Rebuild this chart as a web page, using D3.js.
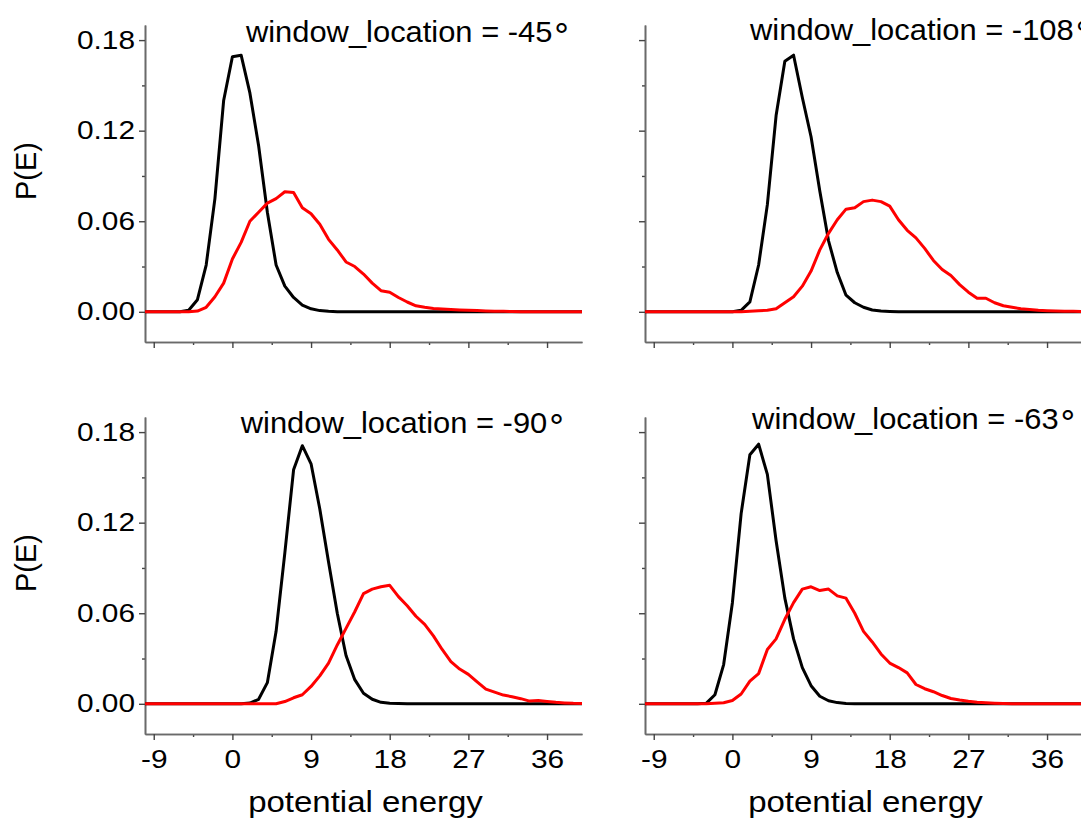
<!DOCTYPE html>
<html>
<head>
<meta charset="utf-8">
<script src="https://cdn.jsdelivr.net/npm/d3@7"></script>
<style>
  body { margin: 0; background: #fff; }
  text { font-family: "Liberation Sans", Arial, sans-serif; fill: #000; }
</style>
</head>
<body>
<div id="chart"></div>
<script>
// bin centres (potential energy)
var energy = [-10,-9,-8,-7,-6,-5,-4,-3,-2,-1,0,1,2,3,4,5,6,7,8,9,10,11,12,13,14,15,16,17,18,19,20,
  21,22,23,24,25,26,27,28,29,30,31,32,33,34,35,36,37,38,39,40]

var windows = ["-45", "-108", "-90", "-63"]

var black45 = [0,0,0,0,0,0.001,0.008,0.031,0.075,0.14,0.169,0.17,0.145,0.11,0.066,0.031,0.017,0.0095,0.0045,0.002,0.0008,0.0003,
  0,0,0,0,0,0,0,0,0,0,0,0,0,0,0,0,0,0,0,0,0,0,0,0,0,0,0,0,0]
var red45 = [0,0,0,0,0,0,0.0005,0.003,0.01,0.019,0.035,0.046,0.06,0.066,0.072,0.075,0.0795,0.079,0.069,0.065,0.058,0.048,0.041,
  0.033,0.03,0.025,0.019,0.014,0.013,0.0095,0.0065,0.004,0.003,0.0022,0.0018,0.0015,0.0012,0.001,0.0008,0.0006,0.0004,0.0003,0.0002,
  0,0,0,0,0,0,0,0]

var black108 = [0,0,0,0,0,0,0,0,0,0,0,0.001,0.0066,0.031,0.071,0.13,0.166,0.17,0.142,0.116,0.08,0.047,0.026,0.011,0.006,0.003,
  0.0012,0.0005,0.0002,0,0,0,0,0,0,0,0,0,0,0,0,0,0,0,0,0,0,0,0,0,0]
var red108 = [0,0,0,0,0,0,0,0,0,0,0,0,0.0003,0.0007,0.001,0.002,0.006,0.01,0.017,0.027,0.041,0.052,0.061,0.068,0.069,0.073,0.074,
  0.073,0.07,0.061,0.054,0.049,0.042,0.034,0.028,0.024,0.018,0.013,0.009,0.009,0.006,0.004,0.003,0.002,0.0015,0.001,0.0007,0.0005,
  0.0004,0.0003,0.0002]

var black90 = [0,0,0,0,0,0,0,0,0,0,0,0,0.0005,0.003,0.014,0.048,0.1,0.155,0.171,0.159,0.129,0.094,0.06,0.032,0.016,0.007,0.003,
  0.001,0.0004,0.0002,0,0,0,0,0,0,0,0,0,0,0,0,0,0,0,0,0,0,0,0,0]
var red90 = [0,0,0,0,0,0,0,0,0,0,0,0,0,0,0,0,0.0015,0.004,0.006,0.0115,0.0185,0.027,0.039,0.05,0.061,0.073,0.076,0.0775,0.0785,
  0.071,0.065,0.058,0.0526,0.045,0.036,0.028,0.023,0.0195,0.0145,0.0097,0.0077,0.0058,0.0047,0.0034,0.0018,0.0022,0.0016,0.001,
  0.0006,0.0003,0.0002]

var black63 = [0,0,0,0,0,0,0,0.0003,0.006,0.026,0.067,0.126,0.165,0.172,0.152,0.108,0.07,0.043,0.024,0.012,0.005,0.002,0.0008,
  0.0002,0,0,0,0,0,0,0,0,0,0,0,0,0,0,0,0,0,0,0,0,0,0,0,0,0,0,0]
var red63 = [0,0,0,0,0,0,0,0,0.0003,0.0007,0.0022,0.0065,0.015,0.02,0.036,0.043,0.056,0.067,0.076,0.0775,0.075,0.076,0.0715,0.07,
  0.06,0.048,0.041,0.033,0.027,0.024,0.0205,0.0128,0.01,0.008,0.0055,0.0035,0.0025,0.0017,0.0011,0.0007,0.0004,0.0002,
  0,0,0,0,0,0,0,0,0]

var blackSeries = [black45, black108, black90, black63]
var redSeries = [red45, red108, red90, red63]

var xMajor = [-9, 0, 9, 18, 27, 36]
var xMinor = [-4.5, 4.5, 13.5, 22.5, 31.5]
var yMajor = [0, 0.06, 0.12, 0.18]
var yMinor = [0.03, 0.09, 0.15]

// layout
var W = 1081, H = 825
var plotW = 437, plotH = 317
var panels = [
  {left: 145, top: 25, tx: 98, ty: 17, xlab: false, ylab: true},
  {left: 645, top: 25, tx: 102, ty: 15, xlab: false, ylab: false},
  {left: 145, top: 417, tx: 93, ty: 16, xlab: true, ylab: true},
  {left: 645, top: 417, tx: 104, ty: 12, xlab: true, ylab: false}
]
var tickStretch = 1.17

var svg = d3.select("#chart")
    .append("svg")
    .attr("width", W)
    .attr("height", H)

var x = d3.scaleLinear().domain([-10, 40]).range([0, plotW])
var y = d3.scaleLinear().domain([-0.02, 0.19]).range([plotH, 0])

var line = d3.line()
    .x(function(d, i){ return x(energy[i]) })
    .y(function(d){ return y(d) })

// plain hyphen for negatives, like the original
var fmtX = function(d){ return String(d) }
var fmtY = function(d){ return d.toFixed(2) }

panels.forEach(function(p, k){
    var g = svg.append("g")
        .attr("transform", "translate(" + p.left + "," + p.top + ")")

    // minor ticks
    g.append("g")
        .attr("class", "minor")
        .attr("transform", "translate(0," + plotH + ")")
        .call(d3.axisBottom(x).tickValues(xMinor).tickSize(3).tickSizeOuter(0).tickFormat(""))
    g.append("g")
        .attr("class", "minor")
        .call(d3.axisLeft(y).tickValues(yMinor).tickSize(3).tickSizeOuter(0).tickFormat(""))

    // major ticks
    var xa = g.append("g")
        .attr("class", "xaxis")
        .attr("transform", "translate(0," + plotH + ")")
        .call(d3.axisBottom(x).tickValues(xMajor).tickSize(6).tickPadding(10).tickSizeOuter(0)
            .tickFormat(p.xlab ? fmtX : ""))
    var ya = g.append("g")
        .attr("class", "yaxis")
        .call(d3.axisLeft(y).tickValues(yMajor).tickSize(6).tickPadding(4).tickSizeOuter(0)
            .tickFormat(p.ylab ? fmtY : ""))

    g.selectAll(".domain").style("stroke", "#6a6a6a").style("stroke-width", 1.6)
    g.selectAll(".tick line").style("stroke", "#444").style("stroke-width", 1.4)
    g.selectAll(".tick text")
        .style("font-family", "Liberation Sans, Arial, sans-serif")
        .style("font-size", "25.5px")
        .style("fill", "#000")
    xa.selectAll(".tick text").attr("transform", "scale(" + tickStretch + ",1)")
    ya.selectAll(".tick text")
        .attr("x", -10 / tickStretch)
        .attr("transform", "scale(" + tickStretch + ",1)")

    // curves, red on top
    g.append("path")
        .datum(blackSeries[k])
        .attr("d", line)
        .style("fill", "none")
        .style("stroke", "#000")
        .style("stroke-width", 3)
        .style("stroke-linejoin", "round")
    g.append("path")
        .datum(redSeries[k])
        .attr("d", line)
        .style("fill", "none")
        .style("stroke", "#ff0000")
        .style("stroke-width", 3)
        .style("stroke-linejoin", "round")

    // panel title
    var t = g.append("text")
        .attr("x", p.tx)
        .attr("y", p.ty)
        .style("font-size", "30px")
        .attr("transform", "scale(1.03,1)")
    t.append("tspan").text("window_location = " + windows[k])
    t.append("tspan")
        .attr("dx", -1)
        .attr("dy", -4)
        .style("font-family", "DejaVu Sans, sans-serif")
        .style("font-size", "32px")
        .text("\u2218")

    if (p.ylab) {
        svg.append("text")
            .attr("transform", "translate(36," + (p.top + 146) + ") rotate(-90)")
            .attr("text-anchor", "middle")
            .style("font-size", "29px")
            .text("P(E)")
    }
    if (p.xlab) {
        svg.append("text")
            .attr("transform", "translate(" + (p.left + plotW / 2 + 2) + ",812) scale(1.1,1)")
            .attr("text-anchor", "middle")
            .style("font-size", "30px")
            .text("potential energy")
    }
})
</script>
</body>
</html>
